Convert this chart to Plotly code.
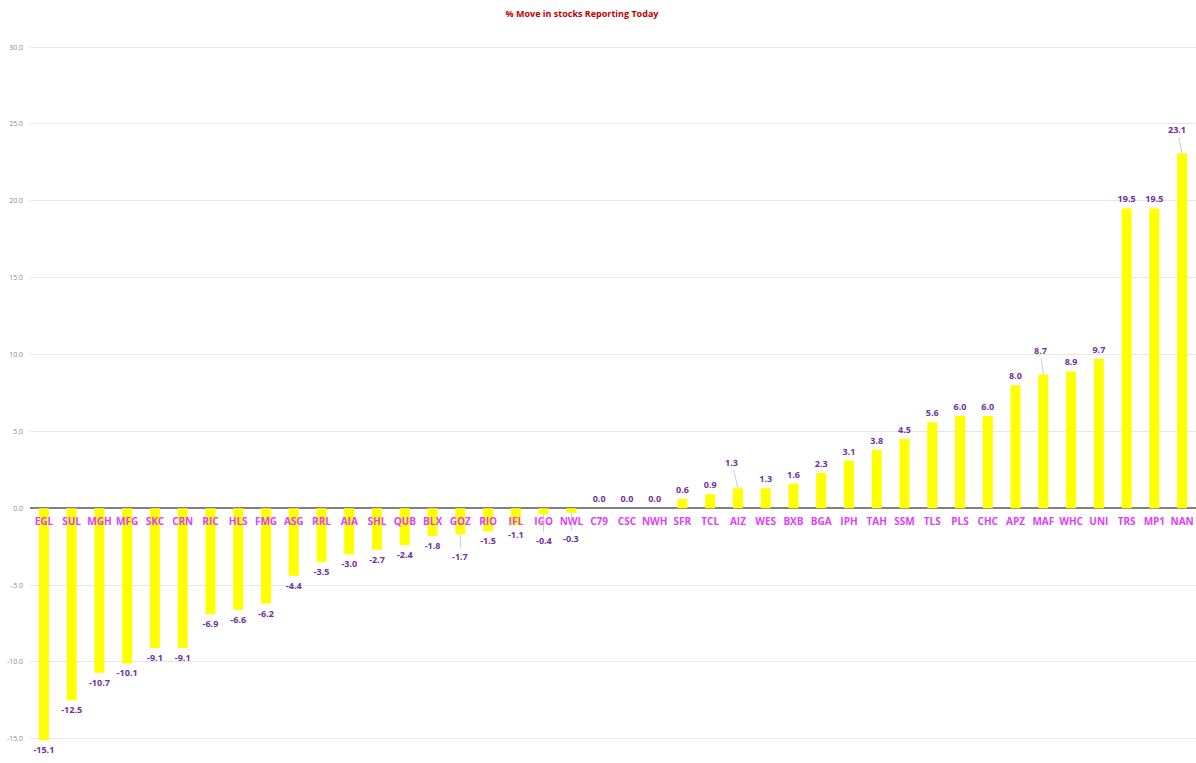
import plotly.graph_objects as go

tickers = ["EGL", "SUL", "MGH", "MFG", "SKC", "CRN", "RIC", "HLS", "FMG", "ASG",
           "RRL", "AIA", "SHL", "QUB", "BLX", "GOZ", "RIO", "IFL", "IGO", "NWL",
           "C79", "CSC", "NWH", "SFR", "TCL", "AIZ", "WES", "BXB", "BGA", "IPH",
           "TAH", "SSM", "TLS", "PLS", "CHC", "APZ", "MAF", "WHC", "UNI", "TRS",
           "MP1", "NAN"]
moves = [-15.1, -12.5, -10.7, -10.1, -9.1, -9.1, -6.9, -6.6, -6.2, -4.4,
         -3.5, -3.0, -2.7, -2.4, -1.8, -1.7, -1.5, -1.1, -0.4, -0.3,
         0.0, 0.0, 0.0, 0.6, 0.9, 1.3, 1.3, 1.6, 2.3, 3.1,
         3.8, 4.5, 5.6, 6.0, 6.0, 8.0, 8.7, 8.9, 9.7, 19.5,
         19.5, 23.1]
y_ticks = [-15, -10, -5, 0, 5, 10, 15, 20, 25, 30]

# labels drawn with leader lines (pixel offsets of the label from the bar end)
leader_offsets = {"GOZ": (0, 22), "IGO": (0, 26), "NWL": (0, 26),
                  "AIZ": (-6, -26), "MAF": (-3, -24), "NAN": (-5, -24)}

y_min, y_max = -15.6, 30.2
zero_pos = (0 - y_min) / (y_max - y_min)

label_font = dict(family="Open Sans", size=9, color="#7030A0", weight="bold")

fig = go.Figure()
fig.add_trace(go.Bar(
    x=tickers, y=moves,
    marker=dict(color="#FFFF00", line=dict(width=0)),
    text=["" if t in leader_offsets else f"{v:.1f}" for t, v in zip(tickers, moves)],
    textposition="outside",
    textfont=label_font,
    constraintext="none",
    cliponaxis=False,
))

for t, v in zip(tickers, moves):
    if t in leader_offsets:
        ax, ay = leader_offsets[t]
        fig.add_annotation(x=t, y=v, text=f"{v:.1f}", showarrow=True, arrowhead=0,
                           arrowwidth=0.8, arrowcolor="#bfbfbf", ax=ax, ay=ay,
                           standoff=0, startstandoff=0, font=label_font)

fig.update_layout(
    width=1196, height=763,
    margin=dict(l=30, r=0, t=44, b=15),
    paper_bgcolor="white", plot_bgcolor="white",
    bargap=0.64,
    showlegend=False,
    title=dict(text="% Move in stocks Reporting Today", x=582 / 1196, xanchor="center",
               y=0.982, yanchor="middle", xref="container", yref="container",
               font=dict(family="Open Sans", size=9, color="#C00000", weight="bold")),
    xaxis=dict(
        anchor="free", position=zero_pos,
        showline=False, showgrid=False, ticks="",
        tickfont=dict(family="Open Sans", size=10, color="#E040FB", weight="bold"),
        ticklabelstandoff=6,
    ),
    yaxis=dict(
        range=[y_min, y_max], tickvals=y_ticks,
        ticktext=[f"{v:.1f}" for v in y_ticks],
        tickfont=dict(family="Open Sans", size=7, color="#8c8c8c"),
        showgrid=True, gridcolor="#e6e6e6", gridwidth=1,
        zeroline=True, zerolinecolor="#808080", zerolinewidth=1.5,
        showline=False, ticks="", ticklabelstandoff=6,
    ),
)

fig.write_html("out.html")
